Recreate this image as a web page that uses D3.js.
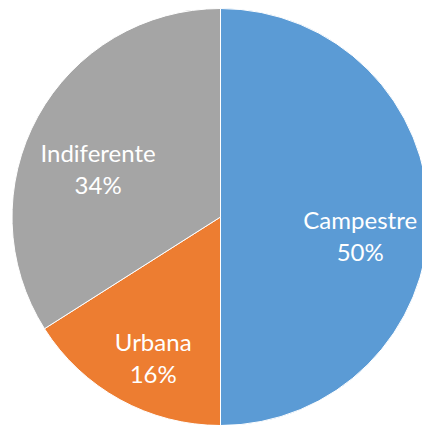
<!DOCTYPE html>
<html>
<head>
<meta charset="utf-8">
<script src="https://cdn.jsdelivr.net/npm/d3@7"></script>
<style>
  html, body { margin: 0; padding: 0; background: #fff; }
  svg { display: block; }
</style>
</head>
<body>
<svg id="chart" width="422" height="425"></svg>
<script>
const categories = ["Campestre", "Urbana", "Indiferente"];
const values = [50, 16, 34];
const colours = ["#5B9BD5", "#ED7D31", "#A5A5A5"];

const width = 422, height = 425;
const cx = 220.5, cy = 217, radius = 208.5;

const svg = d3.select("#chart");
const g = svg.append("g").attr("transform", `translate(${cx}, ${cy})`);

const pie = d3.pie().sort(null).value(d => d.value);
const slices = pie(categories.map((c, i) => ({ name: c, value: values[i], colour: colours[i] })));

const arc = d3.arc().innerRadius(0).outerRadius(radius);
const labelArc = d3.arc().innerRadius(radius * 0.67).outerRadius(radius * 0.67);

g.selectAll(".slice")
  .data(slices)
  .join("path")
  .attr("class", "slice")
  .attr("d", arc)
  .attr("fill", d => d.data.colour)
  .attr("stroke", "#fff")
  .attr("stroke-width", 1);

const total = d3.sum(values);
const labels = g.selectAll(".label")
  .data(slices)
  .join("text")
  .attr("class", "label")
  .attr("text-anchor", "middle")
  .attr("fill", "#fff")
  .attr("font-family", "Lato, 'Open Sans', sans-serif")
  .attr("font-size", 24)
  .attr("transform", d => {
    const [x, y] = labelArc.centroid(d);
    return `translate(${x}, ${y + 20})`;
  });

labels.append("tspan").attr("x", 0).attr("y", -8).text(d => d.data.name);
labels.append("tspan").attr("x", 0).attr("y", 24).text(d => Math.round(d.data.value / total * 100) + "%");
</script>
</body>
</html>
